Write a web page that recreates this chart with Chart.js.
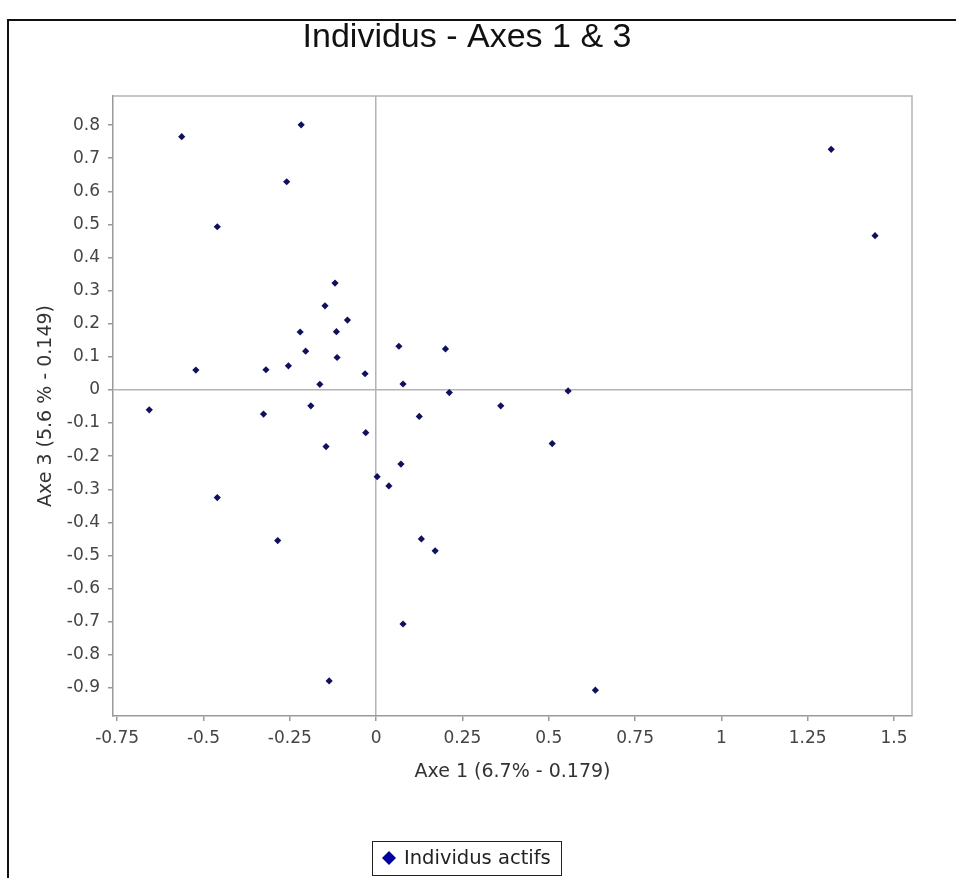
<!DOCTYPE html>
<html>
<head>
<meta charset="utf-8">
<title>Individus - Axes 1 & 3</title>
<script src="https://cdn.jsdelivr.net/npm/chart.js@4.4.1/dist/chart.umd.min.js"></script>
<style>
  html, body { margin: 0; padding: 0; background: #fff; }
  #wrap { width: 956px; height: 878px; position: relative; }
</style>
</head>
<body>
<div id="wrap"><canvas id="chart" width="956" height="878"></canvas></div>
<script>
// coordonnées des individus sur les axes 1 et 3
const axe1 = [
  -0.563, -0.217, -0.259, -0.460, 1.318, 1.445,
  -0.119, -0.148, -0.083, -0.220, -0.115, -0.204, -0.113,
  0.066, 0.201, -0.522, -0.319, -0.254, -0.032, -0.163,
  0.078, 0.212, 0.556, -0.657, -0.326, -0.189, 0.361,
  0.125, -0.145, -0.030, 0.510, 0.072, 0.003, 0.037,
  -0.460, -0.285, 0.131, 0.171, 0.078, -0.136, 0.635
];
const axe3 = [
  0.765, 0.801, 0.629, 0.493, 0.727, 0.466,
  0.323, 0.254, 0.211, 0.175, 0.176, 0.117, 0.098,
  0.132, 0.124, 0.060, 0.061, 0.073, 0.049, 0.017,
  0.018, -0.008, -0.003, -0.060, -0.073, -0.048, -0.048,
  -0.080, -0.171, -0.129, -0.162, -0.224, -0.262, -0.290,
  -0.325, -0.455, -0.450, -0.486, -0.707, -0.879, -0.907
];

const xTicks = [-0.75, -0.5, -0.25, 0, 0.25, 0.5, 0.75, 1, 1.25, 1.5];
const yTicks = [0.8, 0.7, 0.6, 0.5, 0.4, 0.3, 0.2, 0.1, 0, -0.1, -0.2, -0.3, -0.4, -0.5, -0.6, -0.7, -0.8, -0.9];

const chartTitle = 'Individus - Axes 1 & 3';
const xTitle = 'Axe 1 (6.7% - 0.179)';
const yTitle = 'Axe 3 (5.6 % - 0.149)';
const seriesLabel = 'Individus actifs';

const tickFont = { family: 'DejaVu Sans', size: 17 };
const fmt = v => (v === 0 ? '0' : String(+v.toFixed(2)));

// cadre, titre et légende dessinés autour du graphique
const decorPlugin = {
  id: 'decor',
  beforeDraw(chart) {
    const ctx = chart.ctx;
    ctx.save();
    ctx.fillStyle = '#fff';
    ctx.fillRect(0, 0, chart.width, chart.height);
    ctx.strokeStyle = '#111';
    ctx.lineWidth = 2;
    ctx.strokeRect(8, 20, chart.width + 20, chart.height + 20);
    ctx.restore();
  },
  afterDraw(chart) {
    const ctx = chart.ctx;
    const a = chart.chartArea;
    ctx.save();
    // bord haut et droit de la zone de tracé
    ctx.strokeStyle = '#b4b4b4';
    ctx.lineWidth = 1.5;
    ctx.beginPath();
    ctx.moveTo(a.left, a.top);
    ctx.lineTo(a.right, a.top);
    ctx.lineTo(a.right, a.bottom);
    ctx.stroke();

    // titre
    ctx.fillStyle = '#111';
    ctx.font = '34px "Liberation Sans"';
    ctx.textAlign = 'center';
    ctx.textBaseline = 'middle';
    ctx.fillText(chartTitle, 467, 38);

    // légende
    const ds = chart.data.datasets[0];
    ctx.strokeStyle = '#222';
    ctx.lineWidth = 1;
    ctx.strokeRect(372.5, 841.5, 189, 34);
    ctx.fillStyle = '#0000a0';
    ctx.beginPath();
    ctx.moveTo(389, 851);
    ctx.lineTo(396, 858);
    ctx.lineTo(389, 865);
    ctx.lineTo(382, 858);
    ctx.closePath();
    ctx.fill();
    ctx.fillStyle = '#222';
    ctx.font = '19.5px "DejaVu Sans"';
    ctx.textAlign = 'left';
    ctx.fillText(ds.label, 404, 859);
    ctx.restore();
  }
};

new Chart(document.getElementById('chart'), {
  type: 'scatter',
  data: {
    datasets: [{
      label: seriesLabel,
      data: axe1.map((x, i) => ({ x: x, y: axe3[i] })),
      backgroundColor: '#10105e',
      borderColor: '#10105e',
      pointStyle: 'rectRot',
      pointRadius: 3.6,
      pointBorderWidth: 0
    }]
  },
  options: {
    responsive: false,
    animation: false,
    layout: { padding: { top: 96, right: 44, bottom: 92, left: 0 } },
    plugins: {
      legend: { display: false },
      title: { display: false },
      tooltip: { enabled: false }
    },
    scales: {
      x: {
        type: 'linear',
        min: -0.762,
        max: 1.552,
        afterBuildTicks: s => { s.ticks = xTicks.map(v => ({ value: v })); },
        afterFit: s => { s.height = 70; },
        ticks: {
          color: '#444',
          font: tickFont,
          padding: 7,
          maxRotation: 0,
          autoSkip: false,
          callback: v => fmt(v)
        },
        grid: {
          color: c => (c.tick && c.tick.value === 0 ? '#b4b4b4' : 'rgba(0,0,0,0)'),
          lineWidth: 1.5,
          tickColor: '#999',
          tickLength: 5
        },
        border: { color: '#9a9a9a', width: 1.5 },
        title: {
          display: true,
          text: xTitle,
          color: '#333',
          font: { family: 'DejaVu Sans', size: 19 },
          padding: { top: 0, bottom: 3 }
        }
      },
      y: {
        type: 'linear',
        min: -0.985,
        max: 0.888,
        afterBuildTicks: s => { s.ticks = yTicks.map(v => ({ value: v })); },
        afterFit: s => { s.width = 113; },
        ticks: {
          color: '#444',
          font: tickFont,
          padding: 8,
          autoSkip: false,
          callback: v => fmt(v)
        },
        grid: {
          color: c => (c.tick && c.tick.value === 0 ? '#b4b4b4' : 'rgba(0,0,0,0)'),
          lineWidth: 1.5,
          tickColor: '#999',
          tickLength: 5
        },
        border: { color: '#9a9a9a', width: 1.5 },
        title: {
          display: true,
          text: yTitle,
          color: '#333',
          font: { family: 'DejaVu Sans', size: 19 },
          padding: { top: 35, bottom: 0 }
        }
      }
    }
  },
  plugins: [decorPlugin]
});
</script>
</body>
</html>
